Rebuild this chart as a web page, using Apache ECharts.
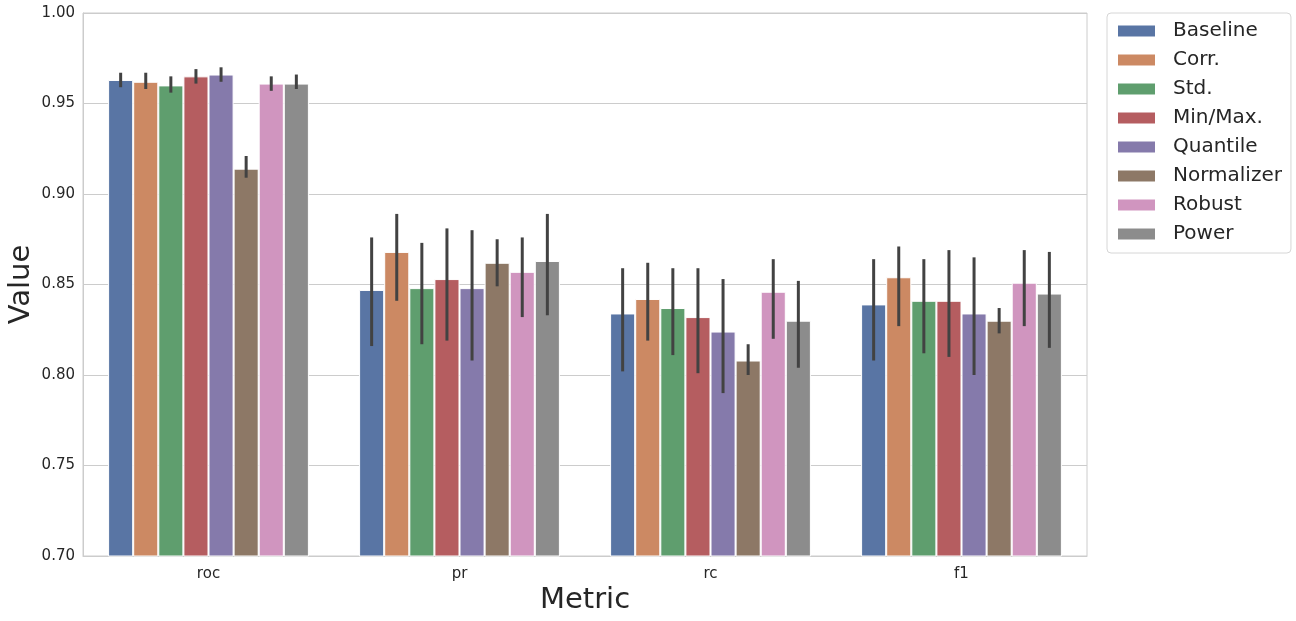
<!DOCTYPE html>
<html>
<head>
<meta charset="utf-8">
<script src="https://cdn.jsdelivr.net/npm/echarts@6/dist/echarts.min.js"></script>
<style>html,body{margin:0;padding:0;background:#fff}#c{width:1296px;height:621px}</style>
</head>
<body>
<div id="c"></div>
<script>
const categories = ['roc', 'pr', 'rc', 'f1'];
const methods = ['Baseline', 'Corr.', 'Std.', 'Min/Max.', 'Quantile', 'Normalizer', 'Robust', 'Power'];
const colors = ['#5975a4', '#cc8963', '#5f9e6e', '#b55d60', '#857aab', '#8d7866', '#d095bf', '#8c8c8c'];
const yTicks = [0.70, 0.75, 0.80, 0.85, 0.90, 0.95, 1.00];

// mean values per method, ordered as categories (roc, pr, rc, f1)
const Baseline   = [0.963, 0.847, 0.834, 0.839];
const Corr       = [0.962, 0.868, 0.842, 0.854];
const Std        = [0.960, 0.848, 0.837, 0.841];
const MinMax     = [0.965, 0.853, 0.832, 0.841];
const Quantile   = [0.966, 0.848, 0.824, 0.834];
const Normalizer = [0.914, 0.862, 0.808, 0.830];
const Robust     = [0.961, 0.857, 0.846, 0.851];
const Power      = [0.961, 0.863, 0.830, 0.845];

// confidence interval low / high per method
const BaselineLo   = [0.959, 0.816, 0.802, 0.808];
const BaselineHi   = [0.967, 0.876, 0.859, 0.864];
const CorrLo       = [0.958, 0.841, 0.819, 0.827];
const CorrHi       = [0.967, 0.889, 0.862, 0.871];
const StdLo        = [0.956, 0.817, 0.811, 0.812];
const StdHi        = [0.965, 0.873, 0.859, 0.864];
const MinMaxLo     = [0.961, 0.819, 0.801, 0.810];
const MinMaxHi     = [0.969, 0.881, 0.859, 0.869];
const QuantileLo   = [0.962, 0.808, 0.790, 0.800];
const QuantileHi   = [0.970, 0.880, 0.853, 0.865];
const NormalizerLo = [0.909, 0.849, 0.800, 0.823];
const NormalizerHi = [0.921, 0.875, 0.817, 0.837];
const RobustLo     = [0.957, 0.832, 0.820, 0.827];
const RobustHi     = [0.965, 0.876, 0.864, 0.869];
const PowerLo      = [0.958, 0.833, 0.804, 0.815];
const PowerHi      = [0.966, 0.889, 0.852, 0.868];

const means = [Baseline, Corr, Std, MinMax, Quantile, Normalizer, Robust, Power];
const lows = [BaselineLo, CorrLo, StdLo, MinMaxLo, QuantileLo, NormalizerLo, RobustLo, PowerLo];
const highs = [BaselineHi, CorrHi, StdHi, MinMaxHi, QuantileHi, NormalizerHi, RobustHi, PowerHi];

const FONT = 'DejaVu Sans';
const chart = echarts.init(document.getElementById('c'));

const series = methods.map((m, i) => ({
  name: m,
  type: 'bar',
  data: means[i],
  barGap: '0%',
  barCategoryGap: '20%',
  itemStyle: { color: colors[i], borderColor: '#ffffff', borderWidth: 1 },
  emphasis: { disabled: true },
  z: 2
}));

const errData = [];
methods.forEach((m, h) => {
  categories.forEach((c, k) => {
    errData.push([k, lows[h][k], highs[h][k], h]);
  });
});

series.push({
  type: 'custom',
  name: 'err',
  data: errData,
  z: 5,
  silent: true,
  renderItem: function (params, api) {
    const k = api.value(0);
    const lo = api.coord([k, api.value(1)]);
    const hi = api.coord([k, api.value(2)]);
    const h = api.value(3);
    const band = api.size([1, 0])[0];
    const bw = band * 0.8 / methods.length;
    const x = lo[0] + (h - (methods.length - 1) / 2) * bw;
    return {
      type: 'line',
      shape: { x1: x, y1: lo[1], x2: x, y2: hi[1] },
      style: { stroke: '#424242', lineWidth: 3 }
    };
  },
  encode: { x: 0, y: [1, 2] }
});

chart.setOption({
  animation: false,
  backgroundColor: '#ffffff',
  textStyle: { fontFamily: FONT },
  grid: {
    left: 83, right: 209, top: 13, bottom: 65,
    containLabel: false,
    outerBoundsMode: 'none',
    show: true, borderColor: '#cccccc', borderWidth: 1
  },
  legend: {
    data: methods,
    orient: 'vertical',
    left: 1107, top: 13,
    itemWidth: 39, itemHeight: 13,
    itemGap: 7,
    padding: [7, 9, 8, 9],
    borderColor: '#d6d6d6', borderWidth: 1, borderRadius: 4,
    icon: 'rect',
    textStyle: { fontFamily: FONT, fontSize: 20, color: '#262626', padding: [0, 0, 0, 12], lineHeight: 22 }
  },
  xAxis: {
    type: 'category',
    data: categories,
    name: 'Metric',
    nameLocation: 'middle',
    nameGap: 30,
    nameMoveOverlap: false,
    nameTextStyle: { fontFamily: FONT, fontSize: 29, color: '#262626' },
    axisLine: { show: true, lineStyle: { color: '#cccccc', width: 1 } },
    axisTick: { show: false },
    axisLabel: { fontFamily: FONT, fontSize: 15, color: '#262626', margin: 11 },
    splitLine: { show: false }
  },
  yAxis: {
    type: 'value',
    min: 0.70, max: 1.00, interval: 0.05,
    name: 'Value',
    nameLocation: 'middle',
    nameGap: 47,
    nameMoveOverlap: false,
    nameTextStyle: { fontFamily: FONT, fontSize: 29, color: '#262626' },
    axisLine: { show: true, lineStyle: { color: '#cccccc' } },
    axisTick: { show: false },
    axisLabel: {
      fontFamily: FONT, fontSize: 15, color: '#262626', margin: 8,
      formatter: v => { const t = yTicks.find(y => Math.abs(y - v) < 1e-6); return (t !== undefined ? t : v).toFixed(2); }
    },
    splitLine: { show: true, lineStyle: { color: '#cccccc', width: 1 } }
  },
  series: series
});
</script>
</body>
</html>
